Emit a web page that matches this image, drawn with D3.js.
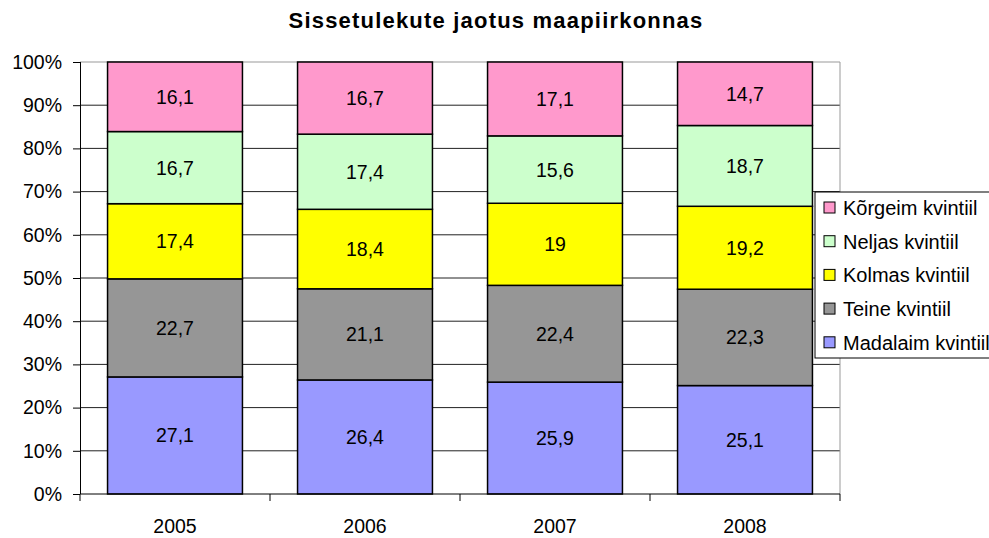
<!DOCTYPE html>
<html>
<head>
<meta charset="utf-8">
<script src="https://cdn.jsdelivr.net/npm/d3@7"></script>
<style>
  body { margin: 0; background: #fff; overflow: hidden; }
  svg { font-family: "Liberation Sans", Arial, sans-serif; display: block; }
</style>
</head>
<body>
<svg id="chart"></svg>
<script>
const years = ["2005", "2006", "2007", "2008"];
const seriesNames = ["Madalaim kvintiil", "Teine kvintiil", "Kolmas kvintiil", "Neljas kvintiil", "Kõrgeim kvintiil"];
const madalaim = [27.1, 26.4, 25.9, 25.1];
const teine = [22.7, 21.1, 22.4, 22.3];
const kolmas = [17.4, 18.4, 19, 19.2];
const neljas = [16.7, 17.4, 15.6, 18.7];
const korgeim = [16.1, 16.7, 17.1, 14.7];
const yTicks = [0, 10, 20, 30, 40, 50, 60, 70, 80, 90, 100];
const colors = ["#9999FF", "#969696", "#FFFF00", "#CCFFCC", "#FF99CC"];

const width = 989, height = 538;
const plotLeft = 80, plotRight = 840, plotTop = 62, plotBottom = 494;
const fs = "19.5px";

const svg = d3.select("#chart").attr("width", width).attr("height", height);

const allSeries = [madalaim, teine, kolmas, neljas, korgeim];
const rows = years.map((yr, i) => {
  let r = { year: yr };
  seriesNames.forEach((n, k) => r[n] = allSeries[k][i]);
  return r;
});

const stack = d3.stack().keys(seriesNames).offset(d3.stackOffsetExpand);
const stacked = stack(rows);

const x = d3.scaleBand().domain(years).range([plotLeft, plotRight]).paddingInner(0.29).paddingOuter(0.145);
const xOuter = d3.scaleBand().domain(years).range([plotLeft, plotRight]);
const y = d3.scaleLinear().domain([0, 1]).range([plotBottom, plotTop]);

// title
svg.append("text")
  .attr("x", 496).attr("y", 28)
  .attr("text-anchor", "middle")
  .style("font-size", "22px").style("font-weight", "bold")
  .style("letter-spacing", "1.2px")
  .text("Sissetulekute jaotus maapiirkonnas");

// gridlines
svg.append("g").selectAll("line")
  .data(yTicks.slice(1))
  .enter().append("line")
  .attr("x1", plotLeft).attr("x2", plotRight)
  .attr("y1", d => y(d / 100)).attr("y2", d => y(d / 100))
  .attr("stroke", d => d === 100 ? "#999" : "#222").attr("stroke-width", 1);

// right border
svg.append("line")
  .attr("x1", plotRight).attr("x2", plotRight).attr("y1", plotTop).attr("y2", plotBottom)
  .attr("stroke", "#999");

// bars
const layers = svg.append("g").selectAll("g")
  .data(stacked)
  .enter().append("g")
  .attr("fill", (d, i) => colors[i]);

layers.selectAll("rect")
  .data(d => d)
  .enter().append("rect")
  .attr("x", d => x(d.data.year))
  .attr("width", x.bandwidth())
  .attr("y", d => y(d[1]))
  .attr("height", d => y(d[0]) - y(d[1]))
  .attr("stroke", "#000").attr("stroke-width", 1.5);

// labels
stacked.forEach((s, k) => {
  svg.append("g").selectAll("text")
    .data(s)
    .enter().append("text")
    .attr("x", d => x(d.data.year) + x.bandwidth() / 2)
    .attr("y", d => (y(d[0]) + y(d[1])) / 2 + 7)
    .attr("text-anchor", "middle")
    .style("font-size", fs)
    .text((d, i) => String(allSeries[k][i]).replace(".", ","));
});

// y axis
const axisY = d3.axisLeft(y).tickValues(yTicks.map(d => d / 100))
  .tickFormat(d => Math.round(d * 100) + "%").tickSize(7).tickPadding(11);
const gy = svg.append("g").attr("transform", `translate(${plotLeft},0)`).call(axisY);
gy.select(".domain").attr("stroke", "#000").attr("d", `M0.5,${plotTop}V${plotBottom}`);
gy.selectAll("text").style("font-size", fs).attr("fill", "#000").attr("font-family", "Liberation Sans, Arial, sans-serif");

// x axis
const gx = svg.append("g").attr("transform", `translate(0,${plotBottom})`);
gx.append("line").attr("x1", plotLeft).attr("x2", plotRight).attr("y1", 0).attr("y2", 0).attr("stroke", "#000");
gx.selectAll(".tk")
  .data(years.concat(["end"]))
  .enter().append("line")
  .attr("x1", (d, i) => i < years.length ? xOuter(d) : plotRight)
  .attr("x2", (d, i) => i < years.length ? xOuter(d) : plotRight)
  .attr("y1", 0).attr("y2", 7).attr("stroke", "#000");
gx.selectAll("text")
  .data(years)
  .enter().append("text")
  .attr("x", d => xOuter(d) + xOuter.bandwidth() / 2)
  .attr("y", 39)
  .attr("text-anchor", "middle")
  .style("font-size", fs)
  .text(d => d);

// legend
const lg = svg.append("g").attr("transform", "translate(815,192)");
lg.append("rect").attr("width", 190).attr("height", 166)
  .attr("fill", "#fff").attr("stroke", "#000");
const legendItems = seriesNames.map((n, i) => ({ name: n, color: colors[i] })).reverse();
const li = lg.selectAll(".li")
  .data(legendItems)
  .enter().append("g")
  .attr("transform", (d, i) => `translate(9,${16 + i * 33.7})`);
li.append("rect").attr("x", 0).attr("y", -6).attr("width", 11).attr("height", 11)
  .attr("fill", d => d.color).attr("stroke", "#000");
li.append("text").attr("x", 19).attr("y", 7)
  .style("font-size", "20px")
  .text(d => d.name);
</script>
</body>
</html>
